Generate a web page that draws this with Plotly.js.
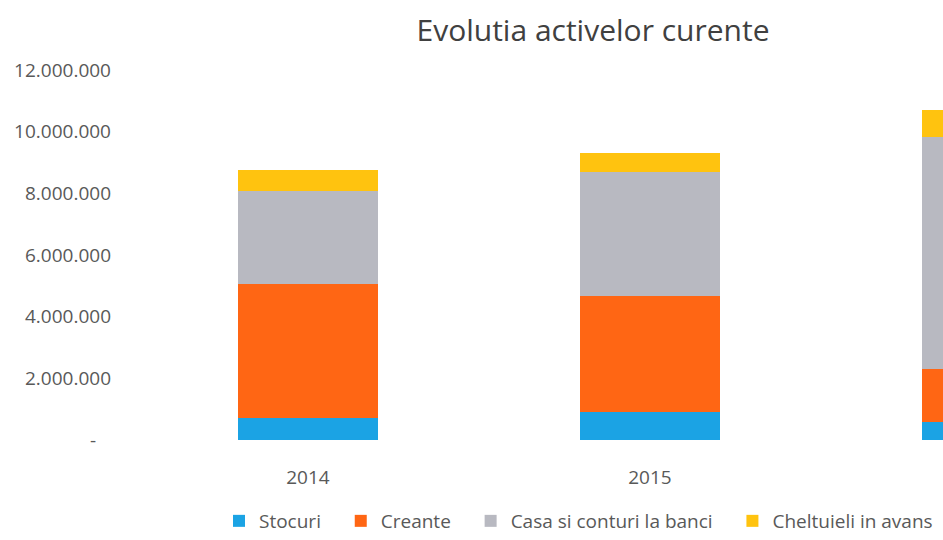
<!DOCTYPE html>
<html>
<head>
<meta charset="utf-8">
<script src="https://cdn.plot.ly/plotly-3.0.1.min.js"></script>
<style>html,body{margin:0;padding:0;background:#fff;}#chart{width:943px;height:540px;}</style>
</head>
<body>
<div id="chart"></div>
<script>
// Data
var years = [2014, 2015, 2016];
var yearLabels = ['2014', '2015', '2016'];
var stocuri = [700000, 900000, 580000];
var creante = [4370000, 3780000, 1720000];
var casa = [3010000, 4020000, 7540000];
var cheltuieli = [680000, 610000, 870000];
var seriesNames = ['Stocuri', 'Creante', 'Casa si conturi la banci', 'Cheltuieli in avans'];
var yTickVals = [0, 2000000, 4000000, 6000000, 8000000, 10000000, 12000000];
var yTickText = ['-\u00a0\u00a0\u00a0', '2.000.000', '4.000.000', '6.000.000', '8.000.000', '10.000.000', '12.000.000'];

var colors = ['#1BA3E4', '#FF6614', '#B8B9C1', '#FFC30F'];
var nb = '\u00a0\u00a0\u00a0';
var pad = [nb, nb, nb, ''];
var values = [stocuri, creante, casa, cheltuieli];

var traces = values.map(function (v, i) {
  return {
    type: 'bar',
    x: years,
    y: v,
    name: seriesNames[i] + pad[i],
    width: 0.41,
    marker: {color: colors[i], line: {width: 0}},
    hoverinfo: 'x+y+name'
  };
});

var font = '"Open Sans", Lato, "Liberation Sans", sans-serif';
var layout = {
  width: 943,
  height: 540,
  barmode: 'stack',
  paper_bgcolor: '#ffffff',
  plot_bgcolor: '#ffffff',
  margin: {l: 112, r: 0, t: 70, b: 97},
  font: {family: font, color: '#595959', size: 19},
  title: {
    text: 'Evolutia activelor curente',
    font: {family: font, size: 30, color: '#404040'},
    x: 593 / 943,
    xref: 'container',
    xanchor: 'center',
    y: 1 - 30 / 540,
    yref: 'container',
    yanchor: 'middle'
  },
  xaxis: {
    range: [2013.427, 2015.857],
    tickvals: years,
    ticktext: yearLabels,
    showgrid: false,
    zeroline: false,
    showline: false,
    ticks: 'outside',
    ticklen: 20,
    tickcolor: 'rgba(0,0,0,0)',
    tickfont: {size: 19, color: '#595959'},
    fixedrange: true
  },
  yaxis: {
    range: [0, 12000000],
    tickvals: yTickVals,
    ticktext: yTickText,
    showgrid: false,
    zeroline: false,
    showline: false,
    ticks: '',
    tickfont: {size: 19, color: '#595959'},
    fixedrange: true
  },
  showlegend: true,
  legend: {
    orientation: 'h',
    x: 1 - 5 / 831,
    xanchor: 'right',
    y: -0.168,
    yanchor: 'top',
    traceorder: 'normal',
    font: {size: 19, color: '#595959'},
    itemwidth: 30
  }
};

Plotly.newPlot('chart', traces, layout, {displayModeBar: false, staticPlot: true});
</script>
</body>
</html>
